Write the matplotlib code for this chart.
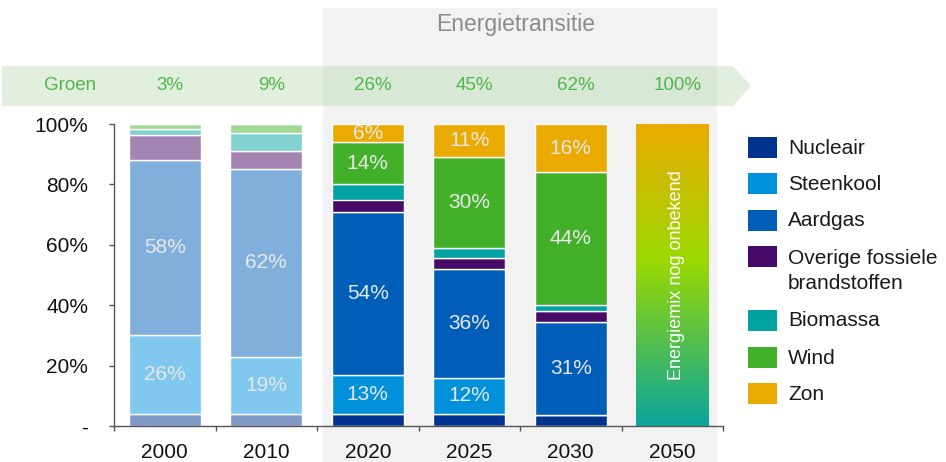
import numpy as np
import matplotlib
matplotlib.use('Agg')
import matplotlib.pyplot as plt
import matplotlib.patches as mpatches
import matplotlib.transforms as mtransforms
from matplotlib import font_manager
from matplotlib.colors import LinearSegmentedColormap, to_rgb

plt.rcParams['font.family'] = ['Liberation Sans', 'DejaVu Sans']

# Energiemix per jaar (% van totaal)
jaren = ['2000', '2010', '2020', '2025', '2030', '2050']
historisch = [True, True, False, False, False, False]
nucleair = [4, 4, 4, 4, 3.5, 0]
steenkool = [26, 19, 13, 12, 0, 0]
aardgas = [58, 62, 54, 36, 31, 0]
overige = [8.5, 6, 4, 3.5, 3.5, 0]
biomassa = [2, 6, 5, 3.5, 2, 0]
wind = [1.5, 3, 14, 30, 44, 0]
zon = [0, 0, 6, 11, 16, 0]
onbekend = [0, 0, 0, 0, 0, 100]
groen = [3, 9, 26, 45, 62, 100]

bronnen = ['Nucleair', 'Steenkool', 'Aardgas', 'Overige fossiele\nbrandstoffen',
           'Biomassa', 'Wind', 'Zon']
reeksen = [nucleair, steenkool, aardgas, overige, biomassa, wind, zon]
kleuren = ['#00338d', '#0091da', '#005eb8', '#470a68', '#00a3a1', '#43b02a', '#eaaa00']
met_label = [False, True, True, False, False, True, True]

W, H = 946, 462
fig = plt.figure(figsize=(W / 100, H / 100), dpi=100)


def fx(px):
    return px / W


def fy(py):
    return 1 - py / H


ax = fig.add_axes([fx(114), fy(426), fx(723) - fx(114), fy(124) - fy(426)])
ax.patch.set_visible(False)

x = np.arange(len(jaren))
breedte = 0.71

# grijs vlak voor de energietransitie
blend = mtransforms.blended_transform_factory(ax.transData, fig.transFigure)
ax.add_patch(mpatches.Rectangle((1.56, 0), 5.44 - 1.56, fy(8), transform=blend,
                                facecolor='#f2f2f2', edgecolor='none',
                                clip_on=False, zorder=0))

# groene pijl met aandeel groen
pijl = mpatches.Polygon([(fx(2), fy(66)), (fx(733), fy(66)), (fx(751), fy(86)),
                         (fx(733), fy(106)), (fx(2), fy(106))],
                        closed=True, transform=fig.transFigure,
                        facecolor='#a7d19e', alpha=0.33, edgecolor='none',
                        clip_on=False, zorder=0.5)
ax.add_patch(pijl)

namen = {f.name for f in font_manager.fontManager.ttflist}
smal = 'Liberation Sans Narrow' if 'Liberation Sans Narrow' in namen else 'Liberation Sans'
groen_kleur = '#4db848'
ax.text(fx(70), fy(86), 'Groen', transform=fig.transFigure, ha='center', va='center',
        color=groen_kleur, fontsize=13.5, family=smal)
for xi, g in zip(x, groen):
    ax.text(xi + 0.05, fy(86), f'{g}%', transform=blend, ha='center', va='center',
            color=groen_kleur, fontsize=13.5, family=smal, clip_on=False)

fig.text(fx(516), fy(24), 'Energietransitie', ha='center', va='center',
         color='#8c8c8c', fontsize=16.5)


def vervaag(kleur, f=0.5):
    r, g, b = to_rgb(kleur)
    return (1 - f * (1 - r), 1 - f * (1 - g), 1 - f * (1 - b))


# gestapelde staven
onder = np.zeros(len(jaren))
for reeks, kleur, label in zip(reeksen, kleuren, met_label):
    waarden = np.array(reeks, dtype=float)
    fc = [vervaag(kleur) if h else kleur for h in historisch]
    ax.bar(x, waarden, breedte, bottom=onder, color=fc, edgecolor='white',
           linewidth=1, zorder=2)
    if label:
        for xi, b, v in zip(x, onder, waarden):
            if v >= 5:
                ax.text(xi, b + v / 2, f'{v:.0f}%', ha='center', va='center',
                        color='#e8e8e8', fontsize=15, zorder=3)
    onder += waarden

# 2050: mix nog onbekend, kleurverloop
verloop = LinearSegmentedColormap.from_list(
    'verloop', [(0, '#0aa59c'), (0.55, '#9bd900'), (1, '#eaaa00')])
grad = np.linspace(0, 1, 256).reshape(-1, 1)
for xi, v in zip(x, onbekend):
    if v > 0:
        ax.imshow(grad, cmap=verloop, origin='lower', aspect='auto',
                  extent=[xi - breedte / 2, xi + breedte / 2, 0, v], zorder=2)
        ax.text(xi + 0.04, v / 2, 'Energiemix nog onbekend', rotation=90,
                ha='center', va='center', color='white', fontsize=13, zorder=3)

ax.set_xlim(-0.5, len(jaren) - 0.5)
ax.set_ylim(0, 100)

ax.set_xticks(x)
ax.set_xticklabels(jaren, fontsize=15)
ax.set_xticks(np.arange(-0.5, len(jaren), 1), minor=True)
ax.tick_params(axis='x', which='major', length=0, pad=12, colors='#111111')
ax.tick_params(axis='x', which='minor', length=3.6, width=1, color='#555555')

ax.set_yticks([0, 20, 40, 60, 80, 100])
ax.set_yticklabels(['-', '20%', '40%', '60%', '80%', '100%'], fontsize=15)
ax.tick_params(axis='y', length=3.6, width=1, color='#555555', pad=15,
               labelcolor='#111111')

for s in ['top', 'right']:
    ax.spines[s].set_visible(False)
for s in ['left', 'bottom']:
    ax.spines[s].set_color('#555555')
    ax.spines[s].set_linewidth(1)
    ax.spines[s].set_zorder(4)

# legenda
legenda_y = [148, 184, 221, 257, 321, 358, 394]
for naam, kleur, ly in zip(bronnen, kleuren, legenda_y):
    fig.patches.append(mpatches.Rectangle((fx(748), fy(ly + 10)), fx(29), 21 / H,
                                          transform=fig.transFigure,
                                          facecolor=kleur, edgecolor='none'))
    tweeregelig = '\n' in naam
    fig.text(fx(788), fy(ly - 8) if tweeregelig else fy(ly), naam, ha='left',
             va='top' if tweeregelig else 'center',
             fontsize=15, color='#1a1a1a', linespacing=1.4,
             transform=fig.transFigure)

fig.savefig('out.png', dpi=100)
